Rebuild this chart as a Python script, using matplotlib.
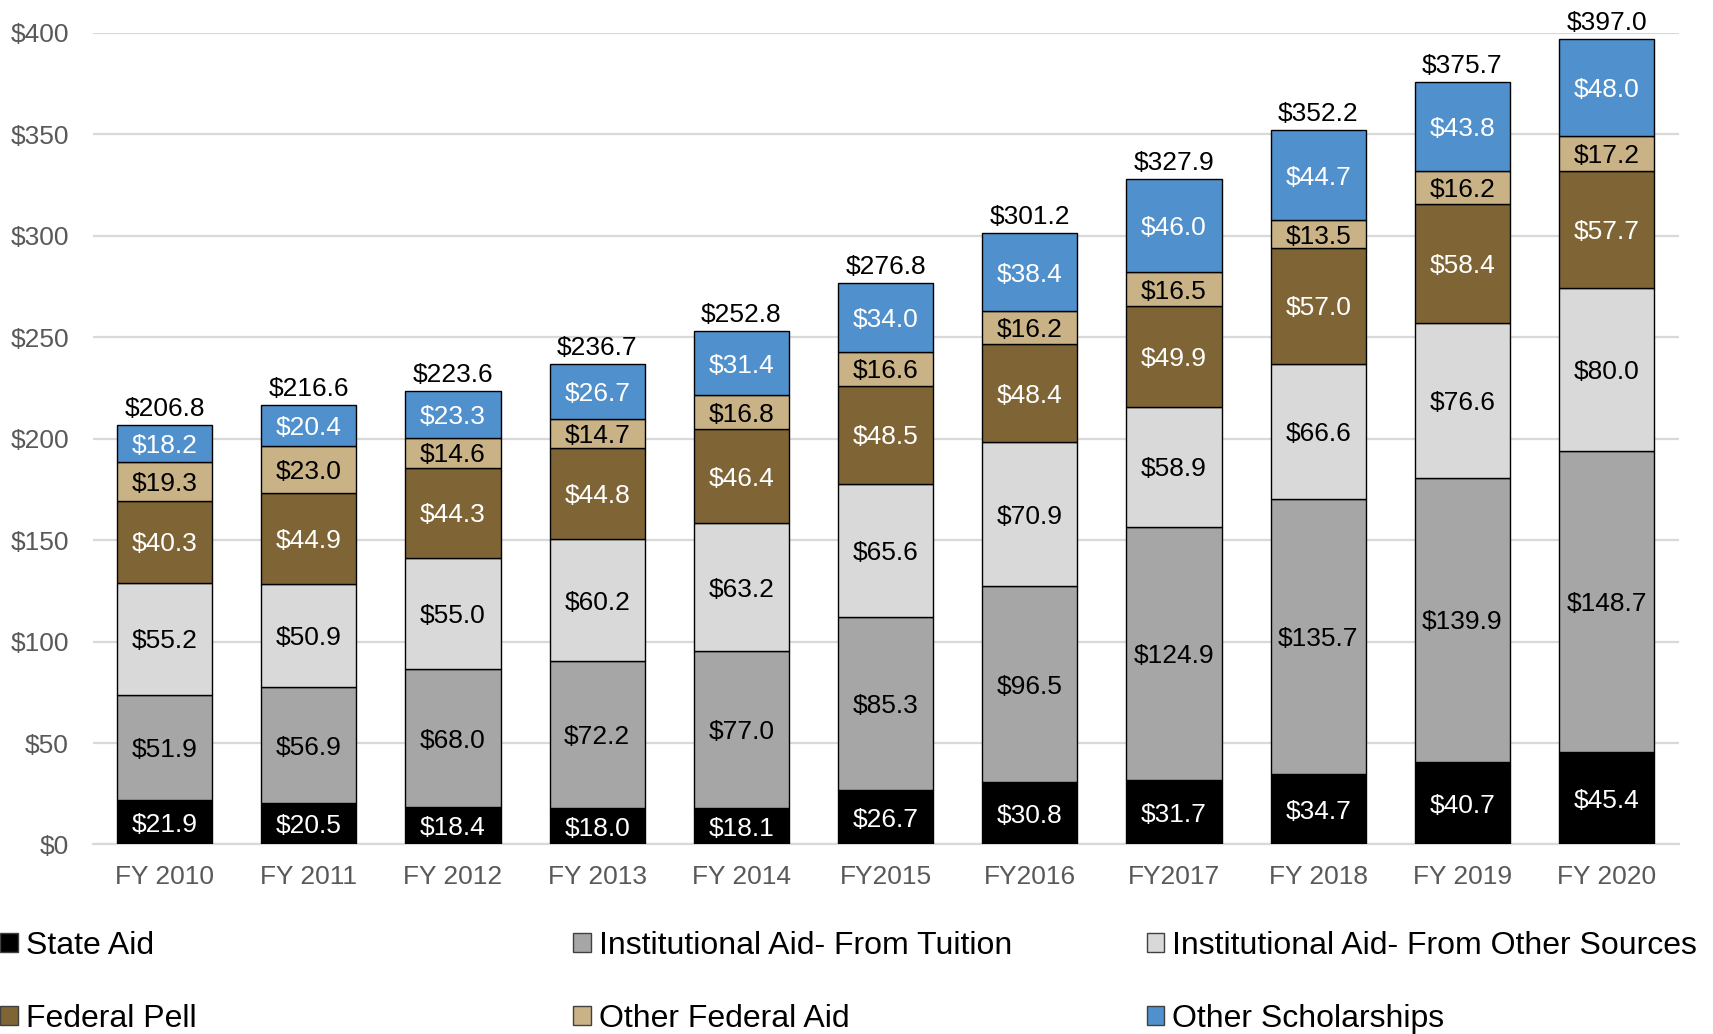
import matplotlib
matplotlib.use("Agg")
import matplotlib.pyplot as plt
from matplotlib.patches import Patch
import numpy as np

plt.rcParams['font.family'] = ['Liberation Sans', 'DejaVu Sans']

years = ["FY 2010", "FY 2011", "FY 2012", "FY 2013", "FY 2014", "FY2015",
         "FY2016", "FY2017", "FY 2018", "FY 2019", "FY 2020"]
state_aid = [21.9, 20.5, 18.4, 18.0, 18.1, 26.7, 30.8, 31.7, 34.7, 40.7, 45.4]
inst_tuition = [51.9, 56.9, 68.0, 72.2, 77.0, 85.3, 96.5, 124.9, 135.7, 139.9, 148.7]
inst_other = [55.2, 50.9, 55.0, 60.2, 63.2, 65.6, 70.9, 58.9, 66.6, 76.6, 80.0]
federal_pell = [40.3, 44.9, 44.3, 44.8, 46.4, 48.5, 48.4, 49.9, 57.0, 58.4, 57.7]
other_federal = [19.3, 23.0, 14.6, 14.7, 16.8, 16.6, 16.2, 16.5, 13.5, 16.2, 17.2]
other_schol = [18.2, 20.4, 23.3, 26.7, 31.4, 34.0, 38.4, 46.0, 44.7, 43.8, 48.0]
totals = [206.8, 216.6, 223.6, 236.7, 252.8, 276.8, 301.2, 327.9, 352.2, 375.7, 397.0]

series = [
    ("State Aid", state_aid, "#000000", "white"),
    ("Institutional Aid- From Tuition", inst_tuition, "#A6A6A6", "black"),
    ("Institutional Aid- From Other Sources", inst_other, "#D9D9D9", "black"),
    ("Federal Pell", federal_pell, "#7F6535", "white"),
    ("Other Federal Aid", other_federal, "#C9B285", "black"),
    ("Other Scholarships", other_schol, "#4F90CD", "white"),
]

fig = plt.figure(figsize=(17.13, 10.34), dpi=100)
ax = fig.add_axes([0.054, 0.1833, 0.926, 0.785])

x = np.arange(len(years))
bottom = np.zeros(len(years))
handles = {}
for name, vals, color, tcolor in series:
    vals = np.array(vals)
    ax.bar(x, vals, width=0.66, bottom=bottom, color=color,
           edgecolor="black", linewidth=1.0, zorder=3)
    for xi, b, v in zip(x, bottom, vals):
        ax.text(xi, b + v / 2, f"${v:.1f}", ha="center", va="center_baseline",
                fontsize=19, color=tcolor, zorder=4)
    handles[name] = Patch(facecolor=color, edgecolor="#404040", linewidth=1.0)
    bottom = bottom + vals

for xi, t in zip(x, totals):
    ax.annotate(f"${t:.1f}", (xi, t), xytext=(0, 3), textcoords="offset points",
                ha="center", va="bottom", fontsize=19, color="black")

ax.set_xlim(-0.5, len(years) - 0.5)
ax.set_ylim(0, 400)
ax.set_yticks(np.arange(0, 401, 50))
ax.set_yticklabels([f"${v}" for v in range(0, 401, 50)])
ax.set_xticks(x)
ax.set_xticklabels(years)
ax.tick_params(axis="both", length=0, labelsize=19, colors="#595959")
ax.tick_params(axis="x", pad=15)
ax.tick_params(axis="y", pad=17)
ax.grid(axis="y", color="#D9D9D9", linewidth=1.6, zorder=0)
for s in ["top", "right", "left"]:
    ax.spines[s].set_visible(False)
ax.spines["bottom"].set_color("#D9D9D9")
ax.spines["bottom"].set_linewidth(1.6)

cols = [
    ["State Aid", "Federal Pell"],
    ["Institutional Aid- From Tuition", "Other Federal Aid"],
    ["Institutional Aid- From Other Sources", "Other Scholarships"],
]
xpos = [0.0, 0.3345, 0.6695]
for names, xp in zip(cols, xpos):
    fig.legend([handles[n] for n in names], names, loc="upper left",
               bbox_to_anchor=(xp, 0.1), frameon=False, fontsize=23,
               handlelength=0.55, handleheight=0.55, handletextpad=0.25,
               labelspacing=1.35, borderaxespad=0, borderpad=0)

fig.savefig("out.png", dpi=100)
